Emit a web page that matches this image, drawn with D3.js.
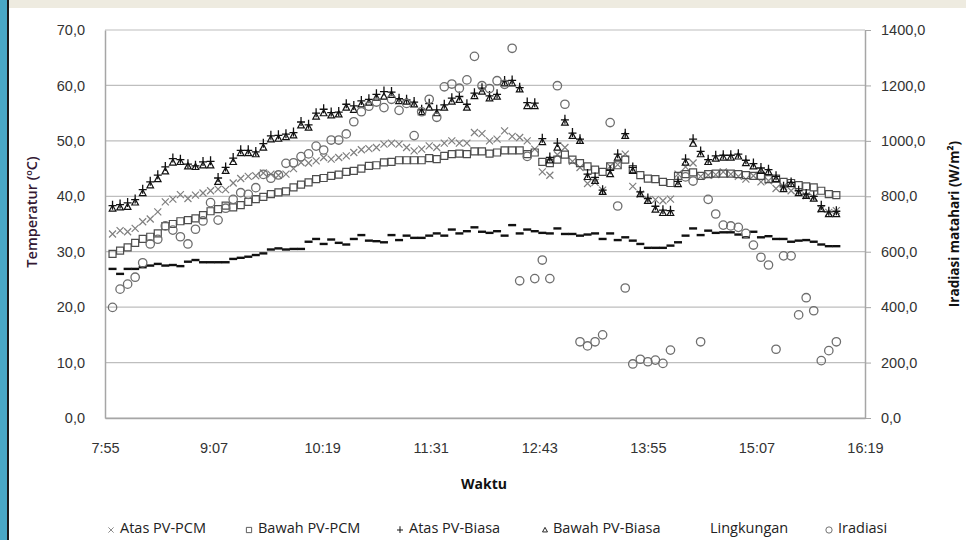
<!DOCTYPE html>
<html>
<head>
<meta charset="utf-8">
<script src="https://cdn.jsdelivr.net/npm/d3@7"></script>
<style>
  body { margin: 0; background: #fff; }
  svg { display: block; font-family: "Open Sans", sans-serif; }
</style>
</head>
<body>
<div id="chart"></div>
<script>
// Data waktu (tiap 5 menit)
const waktu = [
  "8:00","8:05","8:10","8:15","8:20","8:25","8:30","8:35","8:40","8:45","8:50","8:55",
  "9:00","9:05","9:10","9:15","9:20","9:25","9:30","9:35","9:40","9:45","9:50","9:55",
  "10:00","10:05","10:10","10:15","10:20","10:25","10:30","10:35","10:40","10:45","10:50","10:55",
  "11:00","11:05","11:10","11:15","11:20","11:25","11:30","11:35","11:40","11:45","11:50","11:55",
  "12:00","12:05","12:10","12:15","12:20","12:25","12:30","12:35","12:40","12:45","12:50","12:55",
  "13:00","13:05","13:10","13:15","13:20","13:25","13:30","13:35","13:40","13:45","13:50","13:55",
  "14:00","14:05","14:10","14:15","14:20","14:25","14:30","14:35","14:40","14:45","14:50","14:55",
  "15:00","15:05","15:10","15:15","15:20","15:25","15:30","15:35","15:40","15:45","15:50","15:55",
  "16:00"
];

const atasPCM = [
  33.2,33.8,33.6,34.2,35.4,35.9,37.2,39.0,39.5,40.3,39.6,40.2,
  40.6,41.0,41.3,41.2,42.4,43.2,43.6,43.7,44.2,44.0,43.8,44.0,
  45.0,46.1,46.0,46.4,47.0,46.7,47.0,47.3,47.9,48.4,48.6,48.8,
  49.4,49.6,49.4,48.8,48.2,48.5,49.1,48.8,49.6,50.0,49.6,49.6,
  51.5,51.3,50.0,50.3,51.8,50.8,50.6,50.0,48.5,44.4,43.8,47.5,
  48.8,46.3,45.2,42.3,42.5,41.1,45.4,45.7,47.6,41.8,40.4,39.4,
  39.4,39.2,39.5,44.0,45.3,46.0,43.6,43.8,43.9,44.4,44.0,43.6,
  43.1,43.7,42.6,42.8,41.4,41.8,41.0,40.7,40.1,39.8,37.7,37.1,
  37.4
];

const bawahPCM = [
  29.6,30.2,30.8,31.6,32.3,32.7,33.3,34.6,35.0,35.5,35.7,36.0,
  36.6,37.3,37.7,38.3,38.0,38.4,39.0,39.5,39.9,40.4,40.7,40.9,
  41.6,42.1,42.5,43.1,43.3,43.7,43.9,44.4,44.6,45.0,45.5,45.6,
  46.1,46.2,46.5,46.5,46.5,46.5,46.9,46.7,47.3,47.6,47.7,47.6,
  48.1,48.1,47.7,47.9,48.3,48.3,48.3,47.6,47.9,46.2,46.0,46.6,
  47.5,46.6,46.0,45.4,44.8,44.4,45.4,45.6,46.6,44.9,43.8,43.2,
  43.1,42.6,42.4,43.7,44.0,44.3,43.7,44.0,44.1,44.1,44.1,44.0,
  43.8,43.7,43.7,43.1,43.2,42.6,42.4,42.0,41.8,41.6,41.0,40.4,
  40.2
];

const atasBiasa = [
  38.3,38.5,38.8,39.4,41.2,42.6,43.8,45.3,46.8,46.6,45.8,45.5,
  46.2,46.3,43.3,45.2,46.9,48.3,48.3,48.0,49.5,50.9,51.0,51.2,
  51.5,53.4,52.9,55.0,55.7,55.1,55.2,56.6,56.3,57.2,57.5,58.4,
  58.9,58.8,57.6,57.4,57.0,55.6,56.7,55.6,56.5,57.7,58.0,56.6,
  58.6,59.5,58.1,58.4,60.8,60.9,59.6,56.9,56.8,50.4,47.0,49.6,
  53.8,51.4,50.3,44.0,43.4,41.1,44.7,47.6,51.3,45.2,40.8,39.6,
  38.2,37.5,37.4,42.7,46.7,50.3,48.1,46.6,47.3,47.4,47.4,47.6,
  46.5,45.9,45.1,44.8,43.6,41.7,42.5,41.0,40.4,40.0,38.3,37.2,
  37.3
];

const bawahBiasa = [
  37.8,38.0,38.1,38.9,40.6,42.0,43.1,44.5,46.1,46.2,45.4,45.3,
  45.6,45.6,42.6,44.6,46.2,47.8,47.8,47.6,48.8,50.3,50.4,50.7,
  51.0,52.8,52.4,54.4,55.0,54.6,54.8,56.0,55.6,56.6,56.9,57.8,
  58.0,58.3,57.2,57.1,56.6,55.2,56.0,55.0,56.0,57.1,57.4,56.0,
  58.1,58.9,57.7,58.0,60.4,60.4,59.3,56.3,56.3,49.8,46.5,48.8,
  53.3,50.9,50.0,43.5,42.8,40.8,44.0,47.0,50.9,44.6,40.4,39.2,
  37.6,37.0,37.0,42.2,46.1,49.5,47.6,46.2,46.8,47.0,47.0,47.2,
  46.0,45.4,44.6,44.4,43.1,41.3,42.2,40.6,40.1,39.6,37.7,36.8,
  36.8
];

const lingkungan = [
  26.9,26.0,26.9,26.9,27.2,27.5,27.8,27.5,27.6,27.4,28.2,28.5,
  28.1,28.1,28.1,28.1,28.7,28.9,29.1,29.4,29.7,30.4,30.6,30.4,
  30.5,30.5,31.8,32.3,31.4,32.2,31.6,31.3,32.3,33.0,32.0,31.9,
  31.7,33.0,32.1,32.9,32.5,32.5,32.9,33.3,32.9,34.0,33.3,33.7,
  34.4,33.6,33.4,33.7,32.9,34.8,33.3,34.0,33.7,33.4,33.3,34.2,
  33.2,33.2,32.9,33.1,33.3,32.3,33.3,32.1,32.6,32.0,31.4,30.7,
  30.7,30.7,31.1,31.7,32.9,34.2,33.0,33.8,33.4,33.5,33.5,33.1,
  32.6,33.6,32.6,32.8,32.3,32.3,31.8,32.0,32.1,31.8,31.3,31.0,
  31.0
];

const iradiasi = [
  399,465,483,508,560,628,645,693,678,654,628,681,
  711,777,714,757,789,813,807,831,879,865,877,919,
  921,943,953,981,967,1003,1003,1025,1069,1105,1125,1140,
  1120,1150,1110,1135,1019,1105,1150,1085,1195,1205,1190,1220,
  1305,1199,1189,1217,1204,1334,495,944,503,570,503,1199,
  1132,null,275,260,275,300,1066,765,469,195,212,203,
  209,197,245,null,870,855,275,789,736,696,693,688,
  666,624,580,552,248,585,585,372,434,387,207,243,
  275
];

const xTicks = ["7:55","9:07","10:19","11:31","12:43","13:55","15:07","16:19"];
const yTicksKiri = [0,10,20,30,40,50,60,70];
const yTicksKanan = [0,200,400,600,800,1000,1200,1400];

// Helper waktu -> menit
const keMenit = s => { const p = s.split(":"); return +p[0] * 60 + +p[1]; };
const fmtKoma = d => d.toFixed(1).replace(".", ",");

const W = 966, H = 540;
const plotL = 105, plotR = 865, plotT = 30, plotB = 418;

const svg = d3.select("#chart").append("svg")
  .attr("width", W).attr("height", H);

// Latar: strip judul & bar kiri
svg.append("rect").attr("x", 0).attr("y", 0).attr("width", W).attr("height", 8).attr("fill", "#EEEBE0");
svg.append("rect").attr("x", 0).attr("y", 0).attr("width", 7).attr("height", H).attr("fill", "#49A7C5");
svg.append("rect").attr("x", 7).attr("y", 0).attr("width", 2).attr("height", H).attr("fill", "#1a1a1a");

// Skala
const x = d3.scaleLinear().domain([keMenit("7:55"), keMenit("16:19")]).range([plotL, plotR]);
const yL = d3.scaleLinear().domain([0, 70]).range([plotB, plotT]);
const yR = d3.scaleLinear().domain([0, 1400]).range([plotB, plotT]);

// Grid
svg.append("g")
  .selectAll("line")
  .data(yTicksKiri)
  .enter().append("line")
  .attr("x1", plotL).attr("x2", plotR)
  .attr("y1", d => yL(d)).attr("y2", d => yL(d))
  .attr("stroke", "#BEBEBE").attr("stroke-width", 1.2);

// Sumbu kiri
const axL = svg.append("g").attr("transform", `translate(${plotL},0)`)
  .call(d3.axisLeft(yL).tickValues(yTicksKiri).tickFormat(fmtKoma).tickSize(0).tickPadding(20));
axL.select(".domain").attr("stroke", "#A6A6A6").attr("stroke-width", 1.5);
axL.selectAll("text").attr("font-size", 14.5).attr("fill", "#333");

// Sumbu kanan
const axR = svg.append("g").attr("transform", `translate(${plotR},0)`)
  .call(d3.axisRight(yR).tickValues(yTicksKanan).tickFormat(fmtKoma).tickSize(6).tickSizeOuter(0).tickPadding(10));
axR.select(".domain").attr("stroke", "#A6A6A6").attr("stroke-width", 1.5);
axR.selectAll("line").attr("stroke", "#A6A6A6");
axR.selectAll("text").attr("font-size", 14.5).attr("fill", "#333");

// Sumbu bawah
const axB = svg.append("g").attr("transform", `translate(0,${plotB})`)
  .call(d3.axisBottom(x).tickValues(xTicks.map(keMenit))
    .tickFormat((d, i) => xTicks[i]).tickSize(0).tickPadding(25));
axB.select(".domain").attr("stroke", "#A6A6A6").attr("stroke-width", 1.5);
axB.selectAll("text").attr("font-size", 14.5).attr("fill", "#333");

// Judul sumbu
svg.append("text")
  .attr("transform", "translate(37,212) rotate(-90)")
  .attr("text-anchor", "middle").attr("font-size", 14.5).attr("font-weight", 600).attr("fill", "#331833")
  .text("Temperatur (ºC)");
svg.append("text")
  .attr("transform", "translate(959,224) rotate(-90)")
  .attr("text-anchor", "middle").attr("font-size", 13.5).attr("font-weight", "bold").attr("fill", "#111")
  .text("Iradiasi matahari (W/m²)");
svg.append("text")
  .attr("x", 484).attr("y", 489)
  .attr("text-anchor", "middle").attr("font-size", 14).attr("font-weight", "bold").attr("fill", "#111")
  .text("Waktu");

// Bentuk marker
const marker = {
  cross: "M-3.5,-3.5L3.5,3.5M-3.5,3.5L3.5,-3.5",
  square: "M-3.5,-3.5H3.5V3.5H-3.5Z",
  plus: "M-4,0H4M0,-5V4",
  tri: "M0,-3.5L3.3,2.6H-3.3Z",
  dash: "M-4,0H4",
  circle: "M4.2,0A4.2,4.2 0 1,1 -4.2,0A4.2,4.2 0 1,1 4.2,0"
};

const seri = [
  { nama: "Atas PV-PCM", nilai: atasPCM, y: yL, m: "cross", stroke: "#7F7F7F", sw: 1.2 },
  { nama: "Bawah PV-PCM", nilai: bawahPCM, y: yL, m: "square", stroke: "#4D4D4D", sw: 1.2 },
  { nama: "Atas PV-Biasa", nilai: atasBiasa, y: yL, m: "plus", stroke: "#111", sw: 1.3 },
  { nama: "Bawah PV-Biasa", nilai: bawahBiasa, y: yL, m: "tri", stroke: "#111", sw: 1.2 },
  { nama: "Lingkungan", nilai: lingkungan, y: yL, m: "dash", stroke: "#111", sw: 2.4 },
  { nama: "Iradiasi", nilai: iradiasi, y: yR, m: "circle", stroke: "#6E6E6E", sw: 1.3 }
];

seri.forEach(s => {
  const titik = waktu.map((t, i) => ({ t: keMenit(t), v: s.nilai[i] })).filter(d => d.v != null);
  svg.append("g").selectAll("path")
    .data(titik)
    .enter().append("path")
    .attr("transform", d => `translate(${x(d.t)},${s.y(d.v)})`)
    .attr("d", marker[s.m])
    .attr("fill", "none")
    .attr("stroke", s.stroke)
    .attr("stroke-width", s.sw);
});

// Legenda
const legendPos = [
  { mx: 111, tx: 120 },
  { mx: 249, tx: 258 },
  { mx: 400, tx: 409 },
  { mx: 545, tx: 553 },
  { mx: null, tx: 710 },
  { mx: 829, tx: 838 }
];
const lg = svg.append("g");
seri.forEach((s, i) => {
  const p = legendPos[i];
  if (p.mx !== null) {
    lg.append("path")
      .attr("transform", `translate(${p.mx},530) scale(0.75)`)
      .attr("d", marker[s.m])
      .attr("fill", "none").attr("stroke", s.stroke).attr("stroke-width", s.sw);
  }
  lg.append("text")
    .attr("x", p.tx).attr("y", 533)
    .attr("font-size", 14.5).attr("fill", "#222")
    .text(s.nama);
});
</script>
</body>
</html>
